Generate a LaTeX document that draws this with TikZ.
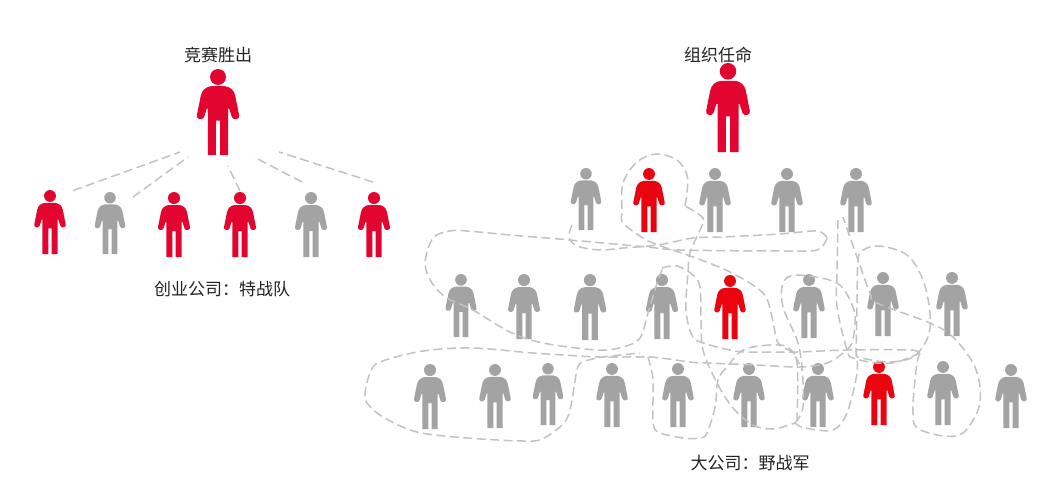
\documentclass[tikz,border=0pt]{standalone}
\usepackage{fontspec}
\setmainfont{Noto Sans CJK SC}
\definecolor{crim}{HTML}{E2052F}
\definecolor{pure}{HTML}{EA0410}
\definecolor{pgray}{HTML}{A3A3A3}
\definecolor{dashc}{HTML}{C2C2C2}
\definecolor{txt}{HTML}{222222}
\tikzset{
  pics/person/.style={code={
    \fill[#1] (0,0.093) circle[radius=0.093];
    \fill[#1] (-0.025,1) -- (-0.025,0.6) -- (0.025,0.6) -- (0.025,1) -- (0.118,1) -- (0.118,0.46)
      -- (0.13,0.46) -- (0.162,0.56) .. controls (0.18,0.605) and (0.262,0.585) .. (0.245,0.535)
      -- (0.2,0.31) .. controls (0.185,0.24) and (0.14,0.21) .. (0.08,0.2)
      -- (-0.08,0.2) .. controls (-0.14,0.21) and (-0.185,0.24) .. (-0.2,0.31)
      -- (-0.245,0.535) .. controls (-0.262,0.585) and (-0.18,0.605) .. (-0.162,0.56)
      -- (-0.13,0.46) -- (-0.118,0.46) -- (-0.118,1) -- cycle;
  }},
  blob/.style={draw=dashc,line width=1.5pt,dash pattern=on 9pt off 4.5pt},
  lab/.style={font=\fontsize{17}{20}\selectfont,text=txt,inner sep=0pt}
}
\newcommand{\person}[5]{\pic (#1) at (#2,#3) [scale=#4-#3] {person=#5};}
\newcommand{\blobline}[1]{\draw[blob] plot[smooth,tension=0.55] coordinates {#1};}
\begin{document}
\begin{tikzpicture}[x=1pt,y=-1pt]
\useasboundingbox (0,0) rectangle (1043,492);
% left group
\node[lab] (t1) at (218,55) {竞赛胜出};
\node[lab] (t2) at (222,289) {创业公司：特战队};
\node[lab] (t3) at (718,55) {组织任命};
\node[lab] (t4) at (750,463) {大公司：野战军};
\person{L0}{218}{69}{155}{crim}
\person{L1}{50}{190}{254}{crim}
\person{L2}{110}{192}{254}{pgray}
\person{L3}{174}{192}{257}{crim}
\person{L4}{240}{192}{257}{crim}
\person{L5}{311}{192}{257}{pgray}
\person{L6}{374}{192}{257}{crim}
\person{R0}{728}{63}{152}{crim}
% row 1
\person{A1}{586}{168}{230}{pgray}
\person{A2}{649}{168}{232}{pure}
\person{A3}{715}{168}{232}{pgray}
\person{A4}{787}{168}{232}{pgray}
\person{A5}{856}{168}{232}{pgray}
% row 2
\person{B1}{461}{274}{337}{pgray}
\person{B2}{524}{274}{339}{pgray}
\person{B3}{590}{274}{340}{pgray}
\person{B4}{662}{274}{339}{pgray}
\person{B5}{730}{275}{339}{pure}
\person{B6}{809}{274}{338}{pgray}
\person{B7}{883}{272}{336}{pgray}
\person{B8}{952}{272}{336}{pgray}
% row 3
\person{C1}{430}{364}{429}{pgray}
\person{C2}{495}{364}{428}{pgray}
\person{C3}{548}{363}{425}{pgray}
\person{C4}{612}{363}{427}{pgray}
\person{C5}{678}{363}{427}{pgray}
\person{C6}{749}{363}{427}{pgray}
\person{C7}{818}{363}{427}{pgray}
\person{C8}{879}{361}{425}{pure}
\person{C9}{943}{361}{425}{pgray}
\person{C10}{1011}{364}{428}{pgray}
% left connectors
\coordinate (a1) at (73,190.6); \coordinate (b1) at (180,152);
\coordinate (a2) at (133,197);  \coordinate (b2) at (188,157);
\coordinate (a3) at (240,191);  \coordinate (b3) at (228,166);
\coordinate (a4) at (302,182);  \coordinate (b4) at (254,157);
\coordinate (a5) at (373,182);  \coordinate (b5) at (279,152);
\foreach \u/\v in {a1/b1,a2/b2,a3/b3,a4/b4,a5/b5} \draw[blob] (\u) -- (\v);
% dashed groups
\blobline{(918,353)(910,350)(847,350)(797,352)(747,352)(730,350)(710,345)(693,337)(686,310)(688,273)(690,253)(700,230)(703,218)(685,206)}
\blobline{(685,206)(687,193)(687,175)(677,160)(657,154)(637,162)(623,183)(622,212)(623,223)(643,238)(658,245)(693,257)(730,272)(763,293)(772,317)(778,343)(793,353)(802,370)}
\blobline{(920,353)(917,363)(914,390)(913,413)(917,428)(943,436)(963,433)(978,410)(980,387)(973,363)(953,337)(930,323)(877,303)(870,293)(858,260)(843,217)}
\blobline{(838,220)(837,273)(837,307)(847,350)(853,358)(877,363)(897,362)(920,353)}
\blobline{(856,357)(857,307)(858,260)(863,250)(880,246)(907,255)(923,280)(930,313)(928,337)(913,357)(887,362)(857,357)}
\blobline{(662,268)(677,266)(693,275)(700,287)(701,317)(703,350)(717,383)(733,408)(753,425)(773,429)(795,423)}
\blobline{(795,423)(803,407)(802,367)(797,340)(783,307)(783,283)(797,275)(837,283)(853,307)(855,323)(852,343)(843,353)(827,363)(800,367)(757,365)(707,363)(690,362)(650,357)(600,357)(533,353)(473,348)(423,351)(380,362)(370,373)(365,393)(367,403)(383,417)(417,432)(467,438)(523,441)(542,439)(562,425)(570,410)(577,370)(583,362)(603,357)(640,353)}
\blobline{(648,357)(653,380)(653,420)(658,432)(683,438)(700,438)(707,433)(715,407)(718,380)(727,367)(743,350)(770,345)(787,347)(797,363)(797,420)(795,423)(805,428)(833,430)(847,413)(857,373)(856,350)}
\blobline{(572,225)(569,237)(577,246)(600,250)(623,248)(658,245)(693,238)(723,237)(780,234)(817,231)(827,238)}
\blobline{(827,238)(817,250)(780,251)(680,250)(647,247)(570,240)(510,235)(467,231)(450,231)(433,238)(425,263)(432,283)(447,298)(473,310)(510,332)(543,343)(597,350)(623,347)(640,338)(648,313)(657,283)(663,268)}
\end{tikzpicture}
\end{document}
